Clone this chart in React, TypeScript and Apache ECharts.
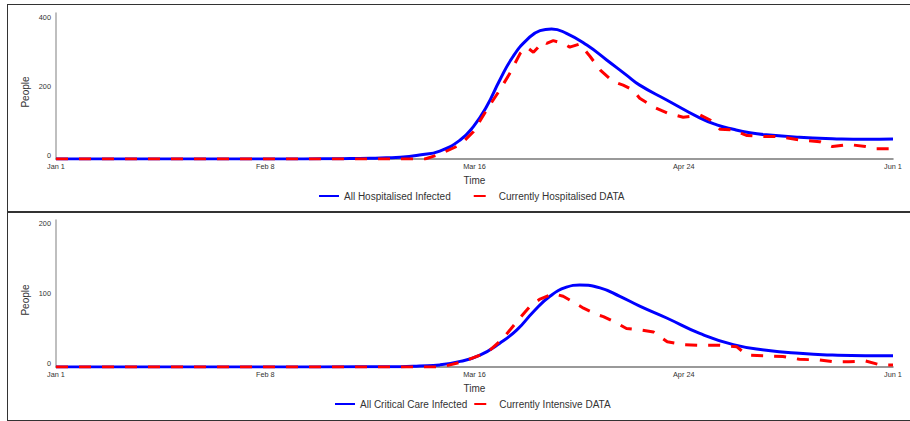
import React, { useEffect, useRef } from 'react';
import * as echarts from 'echarts';

// ---- data (x = days since Jan 1) ----
const TICK_LABELS = ['Jan 1', 'Feb 8', 'Mar 16', 'Apr 24', 'Jun 1'];
const TICK_STEP = 38;
const X_MAX = 152;

const HOSP_MODEL_DAYS = [0, 30, 45, 52, 57, 60, 62.5, 66, 69.7, 73.4, 75.8, 78.2, 80.6, 83, 85.5, 87.9, 90, 92.7, 96.4, 100, 103.6, 106, 110.9, 116.9, 120, 123, 126, 129, 135, 141, 147, 152];
const HOSP_MODEL = [0, 0, 0.3, 1, 2, 3.5, 5, 11.6, 23, 55, 94, 152, 229, 297, 345, 372, 377, 364, 330, 287, 243, 214, 171, 119, 99, 86, 76, 70, 63, 59, 57, 58];

const HOSP_DATA_DAYS = [0, 67, 69.7, 73.4, 75.8, 78.2, 80.6, 82.4, 84.3, 85.5, 86.7, 88.5, 89.1, 90.3, 92.1, 93.3, 95.1, 97, 98.8, 101.2, 103, 104.8, 106, 108.5, 111, 113.9, 117, 118.8, 120.6, 123, 125.5, 129, 131.5, 135, 138.7, 141, 144, 147, 149, 152];
const HOSP_DATA = [0, 0, 14, 41, 79, 142, 200, 248, 306, 324, 309, 340, 335, 343, 335, 324, 333, 297, 258, 224, 214, 200, 176, 151, 133, 121, 127, 113, 86, 84, 68, 65, 65, 55, 50, 36, 42, 36, 30, 30];

const CRIT_MODEL_DAYS = [0, 40, 55, 62.5, 66, 69.7, 73.4, 77, 80.6, 83.7, 86.7, 89.7, 92.7, 95.1, 98.8, 102.4, 106, 110.9, 116.9, 123, 129, 135, 141, 147, 152];
const CRIT_MODEL = [0, 0, 0.2, 0.5, 1.5, 3, 8, 17, 34, 53, 79, 101, 114, 117, 113, 101, 87, 70, 48, 32, 24, 19.5, 17, 16, 16];

const ICU_DATA_DAYS = [0, 70, 74, 77, 78.8, 81.2, 83.7, 86.1, 87.9, 90.3, 92.1, 93.9, 95.8, 98.2, 99.4, 101.8, 103.6, 106, 108.5, 111, 113.9, 117, 120.6, 123.6, 125.5, 129, 132, 135, 138.7, 141, 144, 147, 149.7, 152];
const ICU_DATA = [0, 0, 8, 17, 24, 41, 65, 87, 97, 105, 101, 93, 84, 75, 72, 63, 55, 53, 50, 36, 32, 31, 31, 29, 17, 16, 15, 11, 10, 7.6, 7.6, 8.6, 3, 3];

const TOP_Y_MAX = 423;
const TOP_Y_STEP = 200;
const BOT_Y_MAX = 210;
const BOT_Y_STEP = 100;

const pairs = (xs: number[], ys: number[]) => xs.map((x, i) => [x, ys[i]]);

const FONT = '"Liberation Sans", Arial, sans-serif';
const TEXT = '#333';

function xAxis(gridIndex: number) {
  return {
    type: 'value',
    gridIndex,
    min: 0,
    max: X_MAX,
    interval: TICK_STEP,
    name: 'Time',
    nameLocation: 'middle',
    nameGap: 16,
    nameTextStyle: { fontSize: 10, color: TEXT, fontFamily: FONT },
    axisLine: { show: true, lineStyle: { color: '#777', width: 1.5 } },
    axisTick: { show: false },
    splitLine: { show: false },
    axisLabel: {
      margin: 4,
      fontSize: 7.3,
      color: TEXT,
      fontFamily: FONT,
      formatter: (v: number) => TICK_LABELS[Math.round(v / TICK_STEP)] ?? '',
    },
  };
}

function yAxis(gridIndex: number, max: number, step: number) {
  return {
    type: 'value',
    gridIndex,
    min: 0,
    max,
    interval: step,
    axisLine: { show: true, lineStyle: { color: '#aaa', width: 1.5 } },
    axisTick: { show: false },
    splitLine: { show: false },
    axisLabel: {
      margin: 5,
      fontSize: 7.3,
      color: TEXT,
      fontFamily: FONT,
      verticalAlign: 'bottom',
      formatter: (v: number) => (v % step === 0 ? String(v) : ''),
    },
  };
}

const blueStyle = { color: '#0000ff', width: 3 };
const redStyle = { color: '#ff0000', width: 3, type: [12, 11] };

const legendBase = {
  itemWidth: 20,
  itemHeight: 12,
  textStyle: { fontSize: 10, color: TEXT, fontFamily: FONT },
  itemStyle: { opacity: 0 },
};

const option = {
  animation: false,
  textStyle: { fontFamily: FONT },
  grid: [
    { left: 56, right: 17, top: 13, height: 146 },
    { left: 56, right: 17, top: 220, height: 147 },
  ],
  xAxis: [xAxis(0), xAxis(1)],
  yAxis: [yAxis(0, TOP_Y_MAX, TOP_Y_STEP), yAxis(1, BOT_Y_MAX, BOT_Y_STEP)],
  legend: [
    {
      ...legendBase,
      data: ['All Hospitalised Infected', 'Currently Hospitalised DATA'],
      left: 313,
      top: 186,
      itemGap: 22,
    },
    {
      ...legendBase,
      data: ['All Critical Care Infected', 'Currently Intensive DATA'],
      left: 329,
      top: 394,
      itemGap: 6,
    },
  ],
  graphic: [
    {
      type: 'text',
      x: 25,
      y: 92,
      rotation: Math.PI / 2,
      style: { text: 'People', fontSize: 10, fill: TEXT, fontFamily: FONT, align: 'center', verticalAlign: 'middle' },
    },
    {
      type: 'text',
      x: 25,
      y: 300,
      rotation: Math.PI / 2,
      style: { text: 'People', fontSize: 10, fill: TEXT, fontFamily: FONT, align: 'center', verticalAlign: 'middle' },
    },
  ],
  series: [
    {
      name: 'All Hospitalised Infected',
      type: 'line',
      xAxisIndex: 0,
      yAxisIndex: 0,
      data: pairs(HOSP_MODEL_DAYS, HOSP_MODEL),
      smooth: 0.5,
      symbol: 'none',
      lineStyle: blueStyle,
      itemStyle: { color: '#0000ff' },
    },
    {
      name: 'Currently Hospitalised DATA',
      type: 'line',
      xAxisIndex: 0,
      yAxisIndex: 0,
      data: pairs(HOSP_DATA_DAYS, HOSP_DATA),
      symbol: 'none',
      lineStyle: redStyle,
      itemStyle: { color: '#ff0000' },
    },
    {
      name: 'All Critical Care Infected',
      type: 'line',
      xAxisIndex: 1,
      yAxisIndex: 1,
      data: pairs(CRIT_MODEL_DAYS, CRIT_MODEL),
      smooth: 0.5,
      symbol: 'none',
      lineStyle: blueStyle,
      itemStyle: { color: '#0000ff' },
    },
    {
      name: 'Currently Intensive DATA',
      type: 'line',
      xAxisIndex: 1,
      yAxisIndex: 1,
      data: pairs(ICU_DATA_DAYS, ICU_DATA),
      symbol: 'none',
      lineStyle: redStyle,
      itemStyle: { color: '#ff0000' },
    },
  ],
};

export default function App() {
  const ref = useRef<HTMLDivElement>(null);
  useEffect(() => {
    if (!ref.current) return;
    const chart = echarts.init(ref.current, null, { renderer: 'svg' });
    chart.setOption(option as any);
    return () => chart.dispose();
  }, []);
  return (
    <div style={{ position: 'absolute', left: 0, top: 0, width: 910, height: 421, overflow: 'hidden', background: '#fff' }}>
      <div style={{ position: 'absolute', left: 6.5, top: 3.5, width: 1000, height: 209, border: '1.5px solid #333', boxSizing: 'border-box' }} />
      <div style={{ position: 'absolute', left: 6.5, top: 211, width: 1000, height: 210, border: '1.5px solid #333', boxSizing: 'border-box' }} />
      <div ref={ref} style={{ position: 'absolute', left: 0, top: 0, width: 910, height: 421 }} />
    </div>
  );
}
